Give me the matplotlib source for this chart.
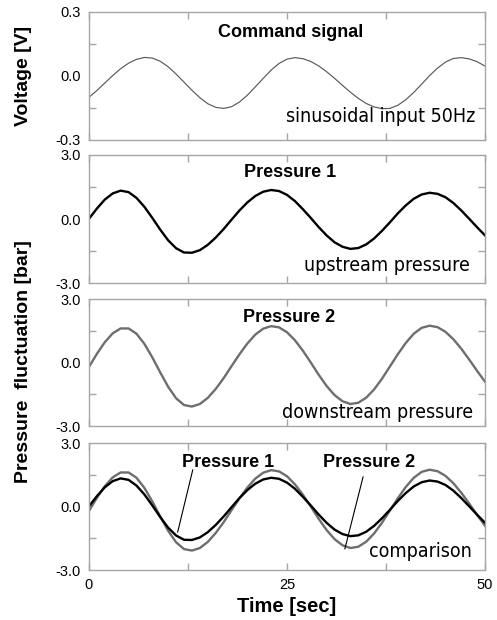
import numpy as np
import matplotlib
matplotlib.use("Agg")
import matplotlib.pyplot as plt
from matplotlib.ticker import FixedLocator

# time axis, one sample per second
time_sec = list(range(0, 51))

command_v = [-0.100, -0.068, -0.033, 0.002, 0.034, 0.060, 0.078, 0.087, 0.084, 0.069,
             0.043, 0.009, -0.029, -0.067, -0.102, -0.130, -0.147, -0.152, -0.144, -0.122,
             -0.090, -0.051, -0.011, 0.028, 0.059, 0.079, 0.086, 0.081, 0.068, 0.047,
             0.020, -0.011, -0.044, -0.076, -0.105, -0.129, -0.145, -0.153, -0.152, -0.137,
             -0.111, -0.077, -0.038, 0.002, 0.037, 0.065, 0.082, 0.086, 0.080, 0.067, 0.046]

pressure1_bar = [0.01, 0.49, 0.91, 1.20, 1.33, 1.26, 0.99, 0.57, 0.05, -0.50,
                 -1.00, -1.37, -1.57, -1.58, -1.46, -1.21, -0.87, -0.47, -0.03, 0.40,
                 0.78, 1.08, 1.28, 1.36, 1.31, 1.13, 0.84, 0.46, 0.05, -0.38,
                 -0.77, -1.09, -1.30, -1.40, -1.36, -1.19, -0.91, -0.55, -0.15, 0.27,
                 0.64, 0.95, 1.15, 1.23, 1.18, 1.02, 0.75, 0.40, 0.01, -0.39, -0.77]

pressure2_bar = [-0.21, 0.41, 0.96, 1.38, 1.61, 1.61, 1.36, 0.88, 0.24, -0.47,
                 -1.15, -1.69, -2.01, -2.08, -1.96, -1.67, -1.25, -0.74, -0.17, 0.39,
                 0.90, 1.32, 1.60, 1.72, 1.66, 1.43, 1.05, 0.56, 0.00, -0.58,
                 -1.11, -1.54, -1.83, -1.96, -1.90, -1.66, -1.27, -0.76, -0.18, 0.40,
                 0.93, 1.36, 1.64, 1.74, 1.67, 1.45, 1.10, 0.65, 0.14, -0.40, -0.91]

voltage_ticks = [-0.3, 0.0, 0.3]
voltage_labels = ["-0.3", "0.0", "0.3"]
pressure_ticks = [-3.0, 0.0, 3.0]
pressure_labels = ["-3.0", "0.0", "3.0"]
time_ticks = [0, 12.5, 25, 37.5, 50]
time_labels = ["0", "", "25", "", "50"]

# leader lines for the curve names in the comparison panel
leader_p1_x = [13.1, 11.2]
leader_p1_y = [1.73, -1.20]
leader_p2_x = [34.6, 32.3]
leader_p2_y = [1.40, -2.00]

ARIAL = "Liberation Sans"
SPINE = "#a6a6a6"
GREY_LINE = "#6e6e6e"

plt.rcParams["font.family"] = ARIAL

fig = plt.figure(figsize=(4.97, 6.20), dpi=100)

left, width = 0.179, 0.797
rows = [(0.7742, 0.2065), (0.5435, 0.2065), (0.3129, 0.2048), (0.0806, 0.2048)]
axes = [fig.add_axes([left, b, width, h]) for b, h in rows]

NOTE = dict(fontsize=14, family="DejaVu Sans", fontstretch="condensed")
TITLE = dict(fontsize=13, fontweight="bold")


def style(ax, yticks, ylabels, ylim, yminor, show_x):
    ax.set_xlim(0, 50)
    ax.set_ylim(*ylim)
    for s in ax.spines.values():
        s.set_color(SPINE)
        s.set_linewidth(1.0)
    ax.xaxis.set_major_locator(FixedLocator(time_ticks))
    if show_x:
        ax.set_xticklabels(time_labels)
    else:
        ax.set_xticklabels([])
    ax.yaxis.set_major_locator(FixedLocator(yticks))
    ax.set_yticklabels(ylabels)
    ax.yaxis.set_minor_locator(FixedLocator(yminor))
    ax.tick_params(axis="both", which="both", direction="in", top=True, right=True,
                   color=SPINE, width=1.0, length=5, labelsize=10.5, pad=6)
    ax.tick_params(axis="y", which="major", length=0)


# command signal
ax = axes[0]
ax.plot(time_sec, command_v, color="#5a5a5a", lw=0.85)
style(ax, voltage_ticks, voltage_labels, (-0.3, 0.3), [-0.15, 0.0, 0.15], False)
ax.text(0.508, 0.84, "Command signal", transform=ax.transAxes, ha="center", va="center", **TITLE)
ax.text(0.975, 0.14, "sinusoidal input 50Hz", transform=ax.transAxes, ha="right",
        va="baseline", **NOTE)

# upstream pressure
ax = axes[1]
ax.plot(time_sec, pressure1_bar, color="black", lw=1.7)
style(ax, pressure_ticks, pressure_labels, (-3, 3), [-1.5, 0.0, 1.5], False)
ax.text(0.508, 0.86, "Pressure 1", transform=ax.transAxes, ha="center", va="center", **TITLE)
ax.text(0.962, 0.096, "upstream pressure", transform=ax.transAxes, ha="right",
        va="baseline", **NOTE)

# downstream pressure
ax = axes[2]
ax.plot(time_sec, pressure2_bar, color=GREY_LINE, lw=1.7)
style(ax, pressure_ticks, pressure_labels, (-3, 3), [-1.5, 0.0, 1.5], False)
ax.text(0.504, 0.858, "Pressure 2", transform=ax.transAxes, ha="center", va="center", **TITLE)
ax.text(0.970, 0.063, "downstream pressure", transform=ax.transAxes, ha="right",
        va="baseline", **NOTE)

# comparison
ax = axes[3]
ax.plot(time_sec, pressure2_bar, color=GREY_LINE, lw=1.7)
ax.plot(time_sec, pressure1_bar, color="black", lw=1.7)
style(ax, pressure_ticks, pressure_labels, (-3, 3), [-1.5, 0.0, 1.5], True)
ax.plot(leader_p1_x, leader_p1_y, color="black", lw=0.8)
ax.plot(leader_p2_x, leader_p2_y, color="black", lw=0.8)
ax.text(0.351, 0.85, "Pressure 1", transform=ax.transAxes, ha="center", va="center", **TITLE)
ax.text(0.707, 0.85, "Pressure 2", transform=ax.transAxes, ha="center", va="center", **TITLE)
ax.text(0.967, 0.10, "comparison", transform=ax.transAxes, ha="right",
        va="baseline", **NOTE)

fig.text(24 / 497, 1 - 76 / 620, "Voltage [V]", rotation=90, ha="center", va="center",
         fontsize=14, fontweight="bold")
fig.text(24 / 497, 1 - 362 / 620, "Pressure  fluctuation [bar]", rotation=90, ha="center",
         va="center", fontsize=14, fontweight="bold")
fig.text(287 / 497, 1 - 607 / 620, "Time [sec]", ha="center", va="center",
         fontsize=14.5, fontweight="bold")

fig.savefig("out.png", dpi=100)
